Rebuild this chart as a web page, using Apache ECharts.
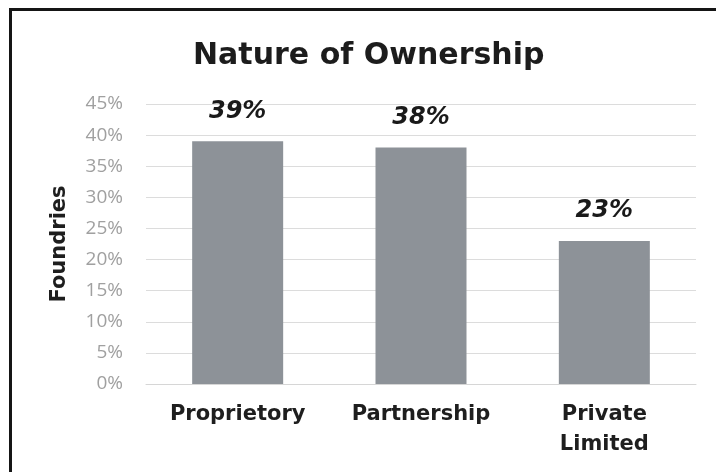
<!DOCTYPE html>
<html>
<head>
<meta charset="utf-8">
<script src="https://cdn.jsdelivr.net/npm/echarts@6/dist/echarts.min.js"></script>
<style>
  html, body { margin: 0; padding: 0; background: #ffffff; }
  #chart { width: 716px; height: 472px; }
</style>
</head>
<body>
<div id="chart"></div>
<script>
// Ownership categories and the share of foundries in each (percent)
const categories = ['Proprietory', 'Partnership', 'Private\nLimited'];
const shares = [39, 38, 23];

// Value axis range and step (percent)
const axisMin = 0;
const axisMax = 45;
const axisStep = 5;

const boldFont = 'DejaVu Sans';
const chart = echarts.init(document.getElementById('chart'), null, { renderer: 'canvas' });

chart.setOption({
  backgroundColor: '#ffffff',
  animation: false,
  title: {
    text: 'Nature of Ownership',
    left: 188,
    top: 36,
    textStyle: {
      fontFamily: boldFont,
      fontWeight: 'bold',
      fontSize: 30,
      color: '#1c1c1c'
    }
  },
  graphic: [{
    type: 'rect',
    shape: { x: 10.5, y: 9.5, width: 800, height: 600 },
    style: { fill: 'none', stroke: '#151515', lineWidth: 3 },
    silent: true
  }],
  grid: { left: 146, right: 20, top: 104, bottom: 88 },
  xAxis: {
    type: 'category',
    data: categories,
    axisTick: { show: false },
    axisLine: { show: true, lineStyle: { color: '#d6d6d6', width: 1 } },
    axisLabel: {
      interval: 0,
      margin: 16,
      fontFamily: boldFont,
      fontWeight: 'bold',
      fontSize: 21,
      lineHeight: 30,
      color: '#1e1e1e'
    }
  },
  yAxis: {
    type: 'value',
    min: axisMin,
    max: axisMax,
    interval: axisStep,
    name: 'Foundries',
    nameLocation: 'middle',
    nameGap: 76,
    nameTextStyle: {
      fontFamily: boldFont,
      fontWeight: 'bold',
      fontSize: 21,
      color: '#1e1e1e'
    },
    axisLine: { show: false },
    axisTick: { show: false },
    splitLine: { lineStyle: { color: '#dcdcdc', width: 1 } },
    axisLabel: {
      margin: 23,
      formatter: '{value}%',
      fontFamily: 'Open Sans',
      fontSize: 19,
      color: '#a0a0a0'
    }
  },
  series: [{
    type: 'bar',
    data: shares,
    barWidth: 91,
    itemStyle: { color: '#8d9298' },
    label: {
      show: true,
      position: 'top',
      distance: 18,
      formatter: '{c}%',
      fontFamily: boldFont,
      fontWeight: 'bold',
      fontStyle: 'italic',
      fontSize: 24,
      color: '#1a1a1a'
    }
  }]
});
</script>
</body>
</html>
